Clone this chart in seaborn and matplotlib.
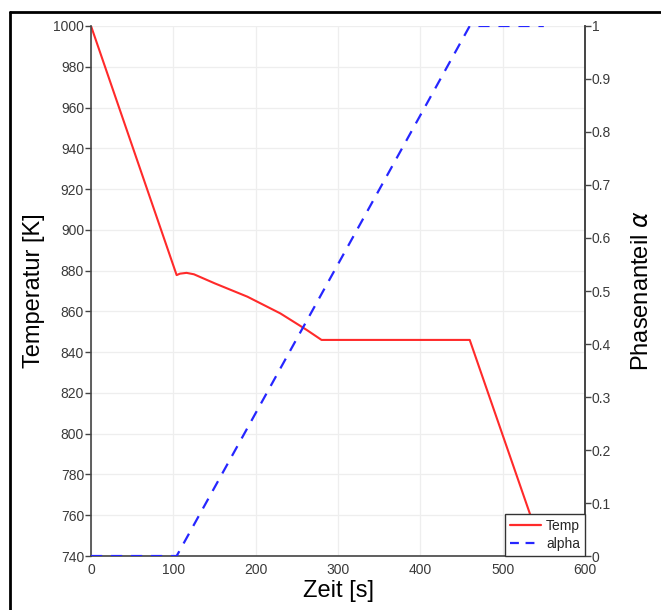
import numpy as np
import pandas as pd
import matplotlib
matplotlib.use("Agg")
import matplotlib.pyplot as plt
import matplotlib.ticker as mticker
from matplotlib.lines import Line2D
import seaborn as sns

# ── Data ───────────────────────────────────────────────────────────────────
zeit_temp = [0, 104, 108, 116, 125, 150, 190, 230, 262, 280, 460, 550]
temp      = [1000, 877.8, 878.5, 878.9, 878.2, 873.8, 867.2, 859.0, 850.9, 846.0, 846.0, 741.0]

zeit_alpha = [0, 104, 460, 550]
alpha      = [0.0, 0.0, 1.0, 1.0]

C_RED  = "#ff2a2a"
C_BLUE = "#2626ff"
C_AXIS = "#444444"
FONT   = ["Liberation Sans", "DejaVu Sans"]

sns.set_style("white")
plt.rcParams["font.family"] = FONT

df_t = pd.DataFrame({"Zeit": zeit_temp, "Temp": temp})
df_a = pd.DataFrame({"Zeit": zeit_alpha, "alpha": alpha})

fig = plt.figure(figsize=(6.61, 6.10), dpi=100)
ax = fig.add_axes([0.1377, 0.0885, 0.885 - 0.1377, 0.9574 - 0.0885])
ax2 = ax.twinx()

sns.lineplot(data=df_t, x="Zeit", y="Temp", ax=ax, color=C_RED, linewidth=1.5)
sns.lineplot(data=df_a, x="Zeit", y="alpha", ax=ax2, color=C_BLUE, linewidth=1.6,
             linestyle=(0, (5, 4)))

ax.set_xlim(0, 600)
ax.set_ylim(740, 1000)
ax2.set_ylim(0, 1)
ax.xaxis.set_major_locator(mticker.MultipleLocator(100))
ax.yaxis.set_major_locator(mticker.MultipleLocator(20))
ax2.yaxis.set_major_locator(mticker.MultipleLocator(0.1))
ax2.yaxis.set_major_formatter(mticker.FormatStrFormatter("%g"))

ax.grid(True, color="#eeeeee", linewidth=0.9)
ax.set_axisbelow(True)

for a in (ax, ax2):
    a.spines["top"].set_visible(False)
    for s in ("left", "bottom", "right"):
        a.spines[s].set_color(C_AXIS)
        a.spines[s].set_linewidth(1.2)
    a.tick_params(direction="out", length=4, width=1, colors=C_AXIS,
                  labelcolor="#3a3a3a", labelsize=10, pad=1)
ax2.spines["left"].set_visible(False)
ax2.spines["bottom"].set_visible(False)

ax.set_xlabel("Zeit [s]", fontsize=17, color="black", labelpad=2)
ax.set_ylabel("Temperatur [K]", fontsize=17, color="black", labelpad=6)
ax2.set_ylabel(r"Phasenanteil $\alpha$", fontsize=17, color="black", labelpad=14)

handles = [
    Line2D([], [], color=C_RED, linewidth=1.6, label="Temp"),
    Line2D([], [], color=C_BLUE, linewidth=1.6, linestyle=(0, (4, 3)), label="alpha"),
]
leg = ax2.legend(handles=handles, loc="lower right", bbox_to_anchor=(1.0, 0.0),
                 fontsize=10, frameon=True, fancybox=False, borderaxespad=0,
                 handlelength=2.2, handletextpad=0.4, labelspacing=0.3,
                 borderpad=0.35)
leg.get_frame().set_edgecolor("#333333")
leg.get_frame().set_linewidth(1.0)
leg.get_frame().set_alpha(1)

# outer frame (top and left edges visible in the reference)
fig.add_artist(Line2D([0.0151, 1.0], [0.980, 0.980], transform=fig.transFigure,
                      color="black", linewidth=2))
fig.add_artist(Line2D([0.0151, 0.0151], [0.0, 0.980], transform=fig.transFigure,
                      color="black", linewidth=2))

fig.savefig("out.png", dpi=100)
